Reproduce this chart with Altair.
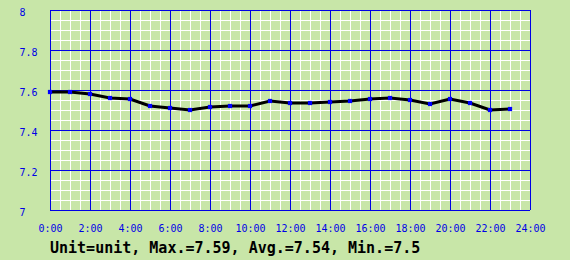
import altair as alt
import pandas as pd

# ---- data ----
hours = list(range(24))
values = [7.59, 7.59, 7.58, 7.56, 7.555, 7.52, 7.51, 7.50, 7.515, 7.52, 7.52, 7.545,
          7.535, 7.535, 7.54, 7.545, 7.555, 7.56, 7.55, 7.53, 7.555, 7.535, 7.50, 7.505]
x_major = [0, 2, 4, 6, 8, 10, 12, 14, 16, 18, 20, 22, 24]
x_minor = [h / 2 for h in range(0, 49)]
y_major = [7.0, 7.2, 7.4, 7.6, 7.8, 8.0]
y_minor = [round(7 + i * 0.05, 2) for i in range(21)]
title_text = "Unit=unit, Max.=7.59, Avg.=7.54, Min.=7.5"

BG = "#c8e6a8"
BLUE = "#0000e6"
MONO = "DejaVu Sans Mono"

df = pd.DataFrame({"hour": hours, "value": values})

xscale = alt.Scale(domain=[0, 24], nice=False, zero=False)
yscale = alt.Scale(domain=[7, 8], nice=False, zero=False)

xaxis = alt.Axis(values=x_major, labelExpr="datum.value + ':00'", title=None,
                 grid=False, domain=False, ticks=False, labelFont=MONO,
                 labelFontSize=10, labelColor=BLUE, labelBaseline="alphabetic",
                 labelPadding=21, labelAlign="center")
yaxis = alt.Axis(values=y_major, format="~g", title=None, grid=False, domain=False,
                 ticks=False, labelFont=MONO, labelFontSize=10, labelColor=BLUE,
                 labelAlign="left", labelPadding=31, labelBaseline="middle",
                 labelOffset=2)

X = lambda f: alt.X(f, scale=xscale, axis=xaxis)
Y = lambda f: alt.Y(f, scale=yscale, axis=yaxis)

minor_v = alt.Chart(pd.DataFrame({"x": x_minor})).mark_rule(
    color="white", strokeWidth=1, xOffset=0.5).encode(x=X("x:Q"))
minor_h = alt.Chart(pd.DataFrame({"y": y_minor})).mark_rule(
    color="white", strokeWidth=1, yOffset=0.5).encode(y=Y("y:Q"))
major_v = alt.Chart(pd.DataFrame({"x": x_major})).mark_rule(
    color=BLUE, strokeWidth=1, xOffset=0.5).encode(x=X("x:Q"))
major_h = alt.Chart(pd.DataFrame({"y": y_major})).mark_rule(
    color=BLUE, strokeWidth=1, yOffset=0.5).encode(y=Y("y:Q"))

line = alt.Chart(df).mark_line(color="black", strokeWidth=3).encode(
    x=X("hour:Q"), y=Y("value:Q"))
pts = alt.Chart(df).mark_square(color="#0000ff", size=18, opacity=1).encode(
    x=X("hour:Q"), y=Y("value:Q"))

chart = alt.layer(minor_v, minor_h, major_v, major_h, line, pts).properties(
    width=480, height=200,
    padding={"left": 50, "top": 10, "right": 40, "bottom": 50},
    autosize=alt.AutoSizeParams(type="none"),
    background=BG,
    title=alt.TitleParams(title_text, orient="bottom", anchor="start",
                          frame="group", font=MONO, fontSize=15,
                          fontWeight="bold", color="black", offset=8),
).configure_view(stroke="transparent", fill=BG)

chart.save("out.html", embed_options={"renderer": "svg", "actions": False})
